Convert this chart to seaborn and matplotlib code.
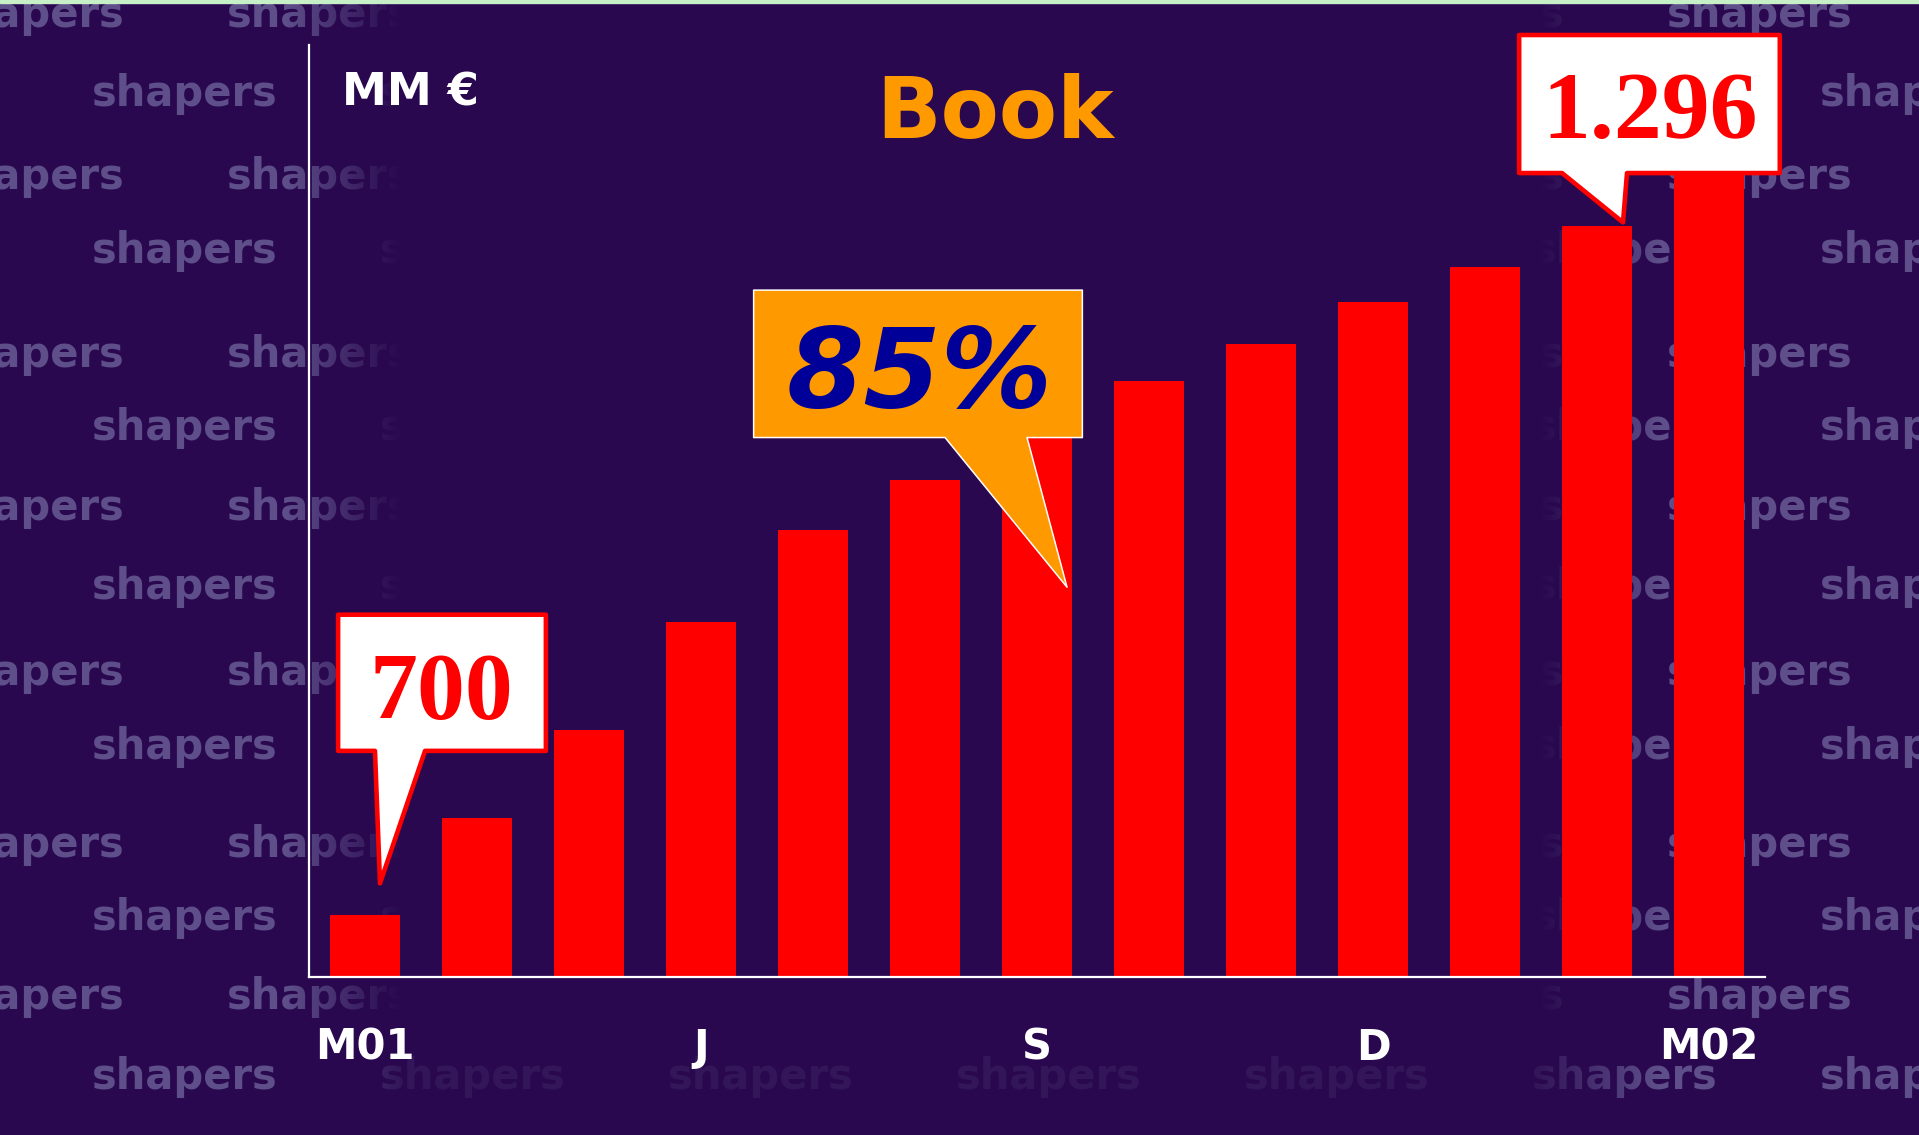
import numpy as np
import pandas as pd
import matplotlib
matplotlib.use("Agg")
import matplotlib.pyplot as plt
from matplotlib.colors import to_rgb
from matplotlib.patches import Polygon, Rectangle
import seaborn as sns

# data: monthly book (MM €), March 2001 -> March 2002
months = ["2001-03", "2001-04", "2001-05", "2001-06", "2001-07", "2001-08", "2001-09",
          "2001-10", "2001-11", "2001-12", "2002-01", "2002-02", "2002-03"]
book = [700, 777, 848, 934, 1008, 1048, 1086, 1127, 1157, 1190, 1218, 1251, 1296]
tick_pos = [0, 3, 6, 9, 12]
tick_labels = ["M01", "J", "S", "D", "M02"]
title = "Book"
unit = "MM €"
first_label = "700"
last_label = "1.296"
growth_label = "85%"

W, H = 1919, 1135
bg = "#29084f"

sns.set_theme(style="white")
plt.rcParams["font.family"] = ["DejaVu Sans"]

fig = plt.figure(figsize=(W / 100, H / 100), dpi=100, facecolor=bg)

# background with "shapers" watermark, faded out in the middle
ax_bg = fig.add_axes([0, 0, 1, 1], zorder=0)
ax_bg.axis("off")
rows_y = [15, 94, 177, 251, 355, 428, 508, 587, 673, 747, 845, 918, 997, 1077]
for i, yy in enumerate(rows_y):
    x0 = -61 if i % 2 == 0 else 92
    for k in range(8):
        ax_bg.text(x0 + 288 * k, yy, "shapers", color="#5e4f8a", fontsize=30,
                   fontweight="bold", va="center", ha="left", zorder=1)
fade_x = np.interp(np.arange(W), [0, 285, 400, 1540, 1660, W], [0, 0, 1, 1, 0, 0])
fade_y = np.where(np.arange(H) > 1045, 0.8, 1.0)
rgba = np.zeros((H, W, 4))
rgba[..., :3] = to_rgb(bg)
rgba[..., 3] = fade_y[:, None] * fade_x[None, :]
ax_bg.imshow(rgba, extent=(0, W, H, 0), aspect="auto", zorder=2, interpolation="nearest")
ax_bg.add_patch(Rectangle((0, 0), W, 2.5, color="#c8f0c8", zorder=3))
ax_bg.set_xlim(0, W)
ax_bg.set_ylim(H, 0)

# main chart
ax = fig.add_axes([309 / W, 1 - 977 / H, (1765 - 309) / W, (977 - 45) / H], zorder=1)
ax.patch.set_alpha(0)
df = pd.DataFrame({"month": months, "book": book})
sns.barplot(data=df, x="month", y="book", color="#ff0000", saturation=1,
            width=0.625, linewidth=0, edgecolor="none", ax=ax)
ax.set_xlim(-0.5, 12.5)
ax.set_ylim(650, 1396)
sns.despine(ax=ax)
for s in ["left", "bottom"]:
    ax.spines[s].set_color("white")
    ax.spines[s].set_linewidth(1.6)
ax.set_xticks(tick_pos, tick_labels)
ax.set_yticks([])
ax.set_xlabel("")
ax.set_ylabel("")
ax.tick_params(axis="x", length=0, pad=36, labelsize=30, labelcolor="white")
for lab in ax.get_xticklabels():
    lab.set_fontweight("bold")

fig.text(995 / W, 1 - 138 / H, title, ha="center", va="baseline",
         fontsize=61, fontweight="bold", color="#ff9900")
fig.text(342 / W, 1 - 105 / H, unit, ha="left", va="baseline",
         fontsize=32.5, fontweight="bold", color="white")


def callout(box, base, tip, face, edge, lw):
    x0, x1, y0, y1 = box
    b0, b1 = base
    pts = [(x0, y1), (x1, y1), (x1, y0), (b1, y0), tip, (b0, y0), (x0, y0)]
    ax.add_patch(Polygon(pts, closed=True, facecolor=face, edgecolor=edge, lw=lw,
                         joinstyle="round", clip_on=False, zorder=5))


callout((-0.24, 1.615, 831, 940), (0.089, 0.536), (0.134, book[0] + 25), "white", "#ff0000", 3.3)
ax.text(0.683, 856.4, first_label, ha="center", va="baseline", family="Liberation Serif",
        fontweight="bold", fontsize=69, color="#ff0000", zorder=6)

callout((10.305, 12.632, 1293.5, 1404), (10.688, 11.268), (11.232, book[11] + 3), "white", "#ff0000", 3.3)
ax.text(11.473, 1321.2, last_label, ha="center", va="baseline", family="Liberation Serif",
        fontweight="bold", fontsize=69, color="#ff0000", zorder=6, clip_on=False)

callout((3.47, 6.405, 1081.8, 1199.8), (5.179, 5.911), (6.268, 962), "#ff9900", "white", 1.1)
ax.text(4.955, 1106, growth_label, ha="center", va="baseline", family="DejaVu Sans",
        fontweight="bold", style="italic", fontsize=80, color="#000099", zorder=6)

fig.savefig("out.png", dpi=100, facecolor=bg)
